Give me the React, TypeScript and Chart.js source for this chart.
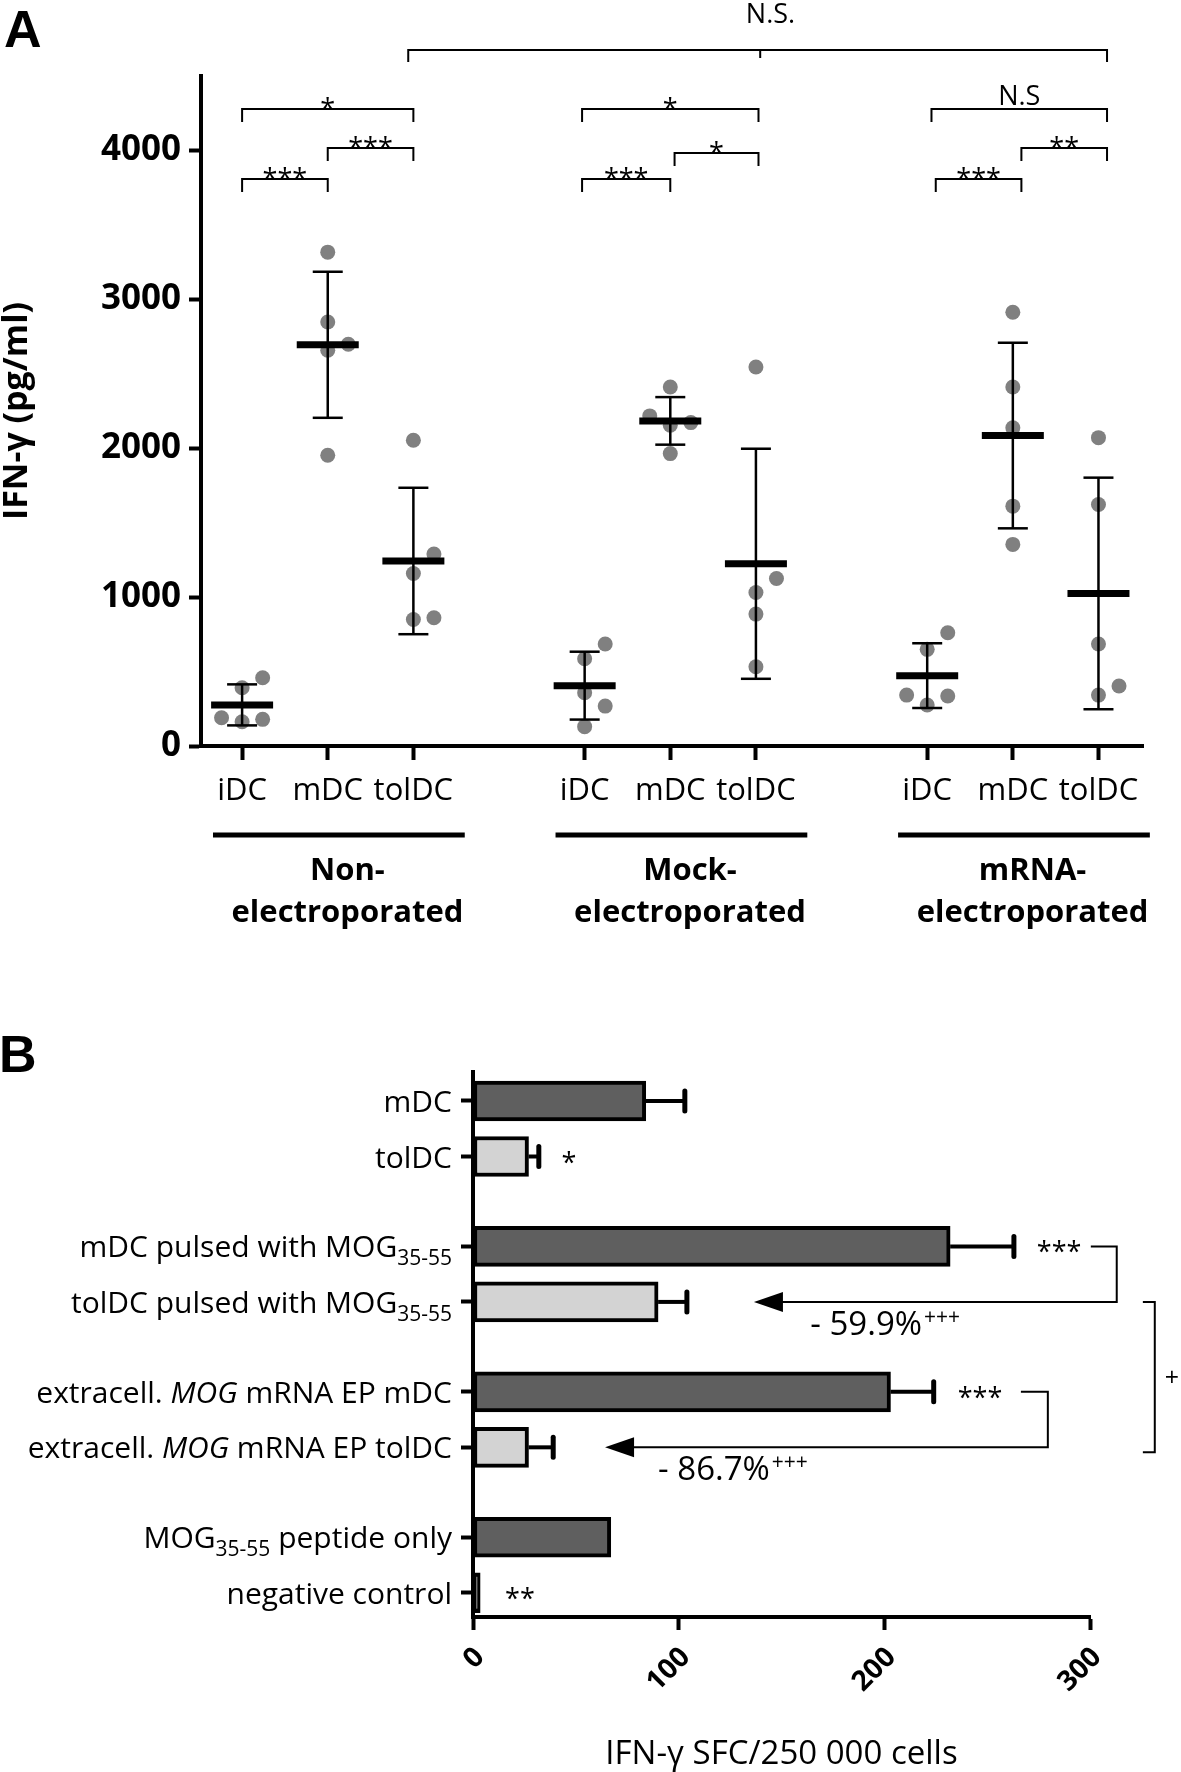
import React, { useEffect, useRef } from 'react';
import { Chart, registerables } from 'chart.js';
Chart.register(...registerables);

const FONT = "'Open Sans', 'DejaVu Sans', sans-serif";
const LETTER_FONT = "bold 52px 'Liberation Sans', Arial, sans-serif";

// ---------------- Panel A data ----------------
const cellTypes = ['iDC', 'mDC', 'tolDC'];
const groupTitles = [['Non-', 'electroporated'], ['Mock-', 'electroporated'], ['mRNA-', 'electroporated']];
const nonEP_iDC = [458, 391, 190, 163, 179];
const nonEP_mDC = [3317, 2848, 2698, 2658, 1953];
const nonEP_tolDC = [2054, 1289, 1159, 850, 861];
const mockEP_iDC = [685, 586, 358, 268, 130];
const mockEP_mDC = [2411, 2172, 2217, 2154, 1964];
const mockEP_tolDC = [2546, 1125, 1031, 886, 532];
const mrnaEP_iDC = [761, 649, 342, 336, 275];
const mrnaEP_mDC = [2913, 2411, 2137, 1611, 1354];
const mrnaEP_tolDC = [2071, 1622, 685, 403, 342];
const seriesA = [
  [nonEP_iDC, nonEP_mDC, nonEP_tolDC],
  [mockEP_iDC, mockEP_mDC, mockEP_tolDC],
  [mrnaEP_iDC, mrnaEP_mDC, mrnaEP_tolDC],
];
const yTicksA = [0, 1000, 2000, 3000, 4000];
const yTitleA = 'IFN-γ (pg/ml)';
// significance brackets: from/to on the category axis, level in pg/ml
const bracketsA = [
  { from: 0, to: 1, level: 3808, label: '***' },
  { from: 1, to: 2, level: 4016, label: '***' },
  { from: 0, to: 2, level: 4278, label: '*' },
  { from: 3.97, to: 5.0, level: 3808, label: '***' },
  { from: 5.05, to: 6.03, level: 3983, label: '*' },
  { from: 3.97, to: 6.03, level: 4278, label: '*' },
  { from: 8.1, to: 9.1, level: 3808, label: '***' },
  { from: 9.1, to: 10.1, level: 4016, label: '**' },
  { from: 8.05, to: 10.1, level: 4278, label: 'N.S' },
];
const overallBracketA = { from: 1.94, mid: 6.05, to: 10.1, level: 4674, label: 'N.S.', labelAt: 6.17 };

// ---------------- Panel B data ----------------
const barLabelsB = [
  [{ t: 'mDC' }],
  [{ t: 'tolDC' }],
  [{ t: 'mDC pulsed with MOG' }, { t: '35-55', sub: true }],
  [{ t: 'tolDC pulsed with MOG' }, { t: '35-55', sub: true }],
  [{ t: 'extracell. ' }, { t: 'MOG', it: true }, { t: ' mRNA EP mDC' }],
  [{ t: 'extracell. ' }, { t: 'MOG', it: true }, { t: ' mRNA EP tolDC' }],
  [{ t: 'MOG' }, { t: '35-55', sub: true }, { t: ' peptide only' }],
  [{ t: 'negative control' }],
];
const barValuesB = [84, 27, 232, 90, 203, 27, 67, 3.5];
const barErrorsB = [19, 5, 31, 14, 21, 12, null, null];
const barKindB = ['mature', 'tolerogenic', 'mature', 'tolerogenic', 'mature', 'tolerogenic', 'mature', 'mature'];
const xTicksB = [0, 100, 200, 300];
const xTitleB = 'IFN-γ SFC/250 000 cells';
const starsB = [
  { bar: 1, x: 46.7, label: '*' },
  { bar: 2, x: 285, label: '***' },
  { bar: 4, x: 246.5, label: '***' },
  { bar: 7, x: 22.8, label: '**' },
];
const arrowsB = [
  { fromBar: 2, toBar: 3, x0: 300.4, x1: 313, tip: 136.6, text: '- 59.9%', sup: '+++', textX: 164 },
  { fromBar: 4, toBar: 5, x0: 266.4, x1: 279.5, tip: 64.2, text: '- 86.7%', sup: '+++', textX: 90 },
];
const plusBracketB = { fromBar: 3, toBar: 5, x0: 325.7, x1: 331.5, label: '+', labelX: 339.8 };

// ---------------- helpers ----------------
const posA = (g: number, t: number) => g * 4 + t;
const posB = (i: number) => i + Math.floor(i / 2) * 0.62;
const mean = (a: number[]) => a.reduce((s, v) => s + v, 0) / a.length;
const sd = (a: number[]) => {
  const m = mean(a);
  return Math.sqrt(a.reduce((s, v) => s + (v - m) * (v - m), 0) / (a.length - 1));
};
function swarmOffsets(values: number[], minGap: number, step: number) {
  const order = values.map((_, i) => i).sort((a, b) => values[a] - values[b]);
  const off = new Array(values.length).fill(0);
  const placed: { v: number; o: number }[] = [];
  for (const i of order) {
    const v = values[i];
    for (const o of [0, step, -step, 2 * step, -2 * step]) {
      if (!placed.some((p) => p.o === o && Math.abs(p.v - v) < minGap)) {
        off[i] = o;
        break;
      }
    }
    placed.push({ v, o: off[i] });
  }
  return off;
}

function line(ctx: CanvasRenderingContext2D, x1: number, y1: number, x2: number, y2: number) {
  ctx.beginPath();
  ctx.moveTo(x1, y1);
  ctx.lineTo(x2, y2);
  ctx.stroke();
}

export default function App() {
  const refA = useRef<HTMLCanvasElement>(null);
  const refB = useRef<HTMLCanvasElement>(null);

  useEffect(() => {
    document.body.style.margin = '0';
    const statsA: { pos: number; m: number; s: number }[] = [];
    const points: { x: number; y: number }[] = [];
    seriesA.forEach((grp, g) =>
      grp.forEach((vals, t) => {
        const p = posA(g, t);
        statsA.push({ pos: p, m: mean(vals), s: sd(vals) });
        const offs = swarmOffsets(vals, 140, 0.24);
        vals.forEach((v, k) => points.push({ x: p + offs[k], y: v }));
      })
    );
    const tickPositionsA: number[] = [];
    seriesA.forEach((grp, g) => grp.forEach((_, t) => tickPositionsA.push(posA(g, t))));

    const pluginA = {
      id: 'panelA',
      afterDatasetsDraw(chart: any) {
        const { ctx, scales } = chart;
        const x = scales.x, y = scales.y;
        ctx.save();
        ctx.strokeStyle = '#000';
        ctx.lineWidth = 2.5;
        statsA.forEach((st) => {
          const px = x.getPixelForValue(st.pos);
          const top = y.getPixelForValue(st.m + st.s);
          const bot = y.getPixelForValue(Math.max(0, st.m - st.s));
          line(ctx, px, top, px, bot);
          line(ctx, px - 15, top, px + 15, top);
          line(ctx, px - 15, bot, px + 15, bot);
        });
        ctx.restore();
      },
      afterDraw(chart: any) {
        const { ctx, scales } = chart;
        const x = scales.x, y = scales.y;
        ctx.save();
        ctx.strokeStyle = '#000';
        ctx.fillStyle = '#000';
        ctx.lineWidth = 2;
        ctx.textAlign = 'center';
        ctx.textBaseline = 'alphabetic';
        bracketsA.forEach((b) => {
          const x1 = x.getPixelForValue(b.from);
          const x2 = x.getPixelForValue(b.to);
          const yy = y.getPixelForValue(b.level);
          ctx.beginPath();
          ctx.moveTo(x1, yy + 13);
          ctx.lineTo(x1, yy);
          ctx.lineTo(x2, yy);
          ctx.lineTo(x2, yy + 13);
          ctx.stroke();
          ctx.font = `27px ${FONT}`;
          const isStar = b.label.indexOf('*') >= 0;
          ctx.fillText(b.label, (x1 + x2) / 2, isStar ? yy + 9 : yy - 4);
        });
        const ob = overallBracketA;
        const ox1 = x.getPixelForValue(ob.from);
        const ox2 = x.getPixelForValue(ob.to);
        const om = x.getPixelForValue(ob.mid);
        const oy = y.getPixelForValue(ob.level);
        ctx.beginPath();
        ctx.moveTo(ox1, oy + 12);
        ctx.lineTo(ox1, oy);
        ctx.lineTo(ox2, oy);
        ctx.lineTo(ox2, oy + 12);
        ctx.moveTo(om, oy);
        ctx.lineTo(om, oy + 8);
        ctx.stroke();
        ctx.font = `27px ${FONT}`;
        ctx.fillText(ob.label, x.getPixelForValue(ob.labelAt), oy - 27);

        // group underlines + titles
        const base = y.getPixelForValue(0);
        groupTitles.forEach((tt, g) => {
          ctx.lineWidth = 5;
          line(ctx, x.getPixelForValue(g * 4 - 0.34), base + 89, x.getPixelForValue(g * 4 + 2.6), base + 89);
          ctx.font = `bold 31px ${FONT}`;
          const cx = x.getPixelForValue(g * 4 + 1.23);
          ctx.fillText(tt[0], cx, base + 134);
          ctx.fillText(tt[1], cx, base + 176);
        });
        ctx.textAlign = 'left';
        ctx.font = LETTER_FONT;
        ctx.fillText('A', 4, 47);
        ctx.restore();
      },
    };

    const chartA = new Chart(refA.current!, {
      type: 'scatter',
      data: {
        datasets: [
          {
            data: statsA.map((s) => ({ x: s.pos, y: s.m })),
            pointStyle: 'line',
            radius: 31,
            hoverRadius: 31,
            borderWidth: 7,
            hoverBorderWidth: 7,
            borderColor: '#000',
            backgroundColor: '#000',
          } as any,
          {
            data: points,
            pointStyle: 'circle',
            radius: 7.5,
            hoverRadius: 7.5,
            borderWidth: 0,
            backgroundColor: '#808080',
          },
        ],
      },
      options: {
        animation: false,
        responsive: false,
        devicePixelRatio: 1,
        events: [],
        layout: { padding: { top: 76, right: 36, left: 0, bottom: 0 } },
        plugins: { legend: { display: false }, tooltip: { enabled: false } },
        scales: {
          x: {
            type: 'linear',
            min: -0.48,
            max: 10.52,
            afterBuildTicks: (s: any) => {
              s.ticks = tickPositionsA.map((v) => ({ value: v }));
            },
            afterFit: (s: any) => {
              s.height = 214;
            },
            ticks: {
              autoSkip: false,
              maxRotation: 0,
              minRotation: 0,
              padding: 13,
              color: '#000',
              font: { family: FONT, size: 31 },
              callback: (v: any) => cellTypes[Math.round(Number(v)) % 4] ?? '',
            },
            grid: { display: true, drawOnChartArea: false, drawTicks: true, tickLength: 14, tickWidth: 4, tickColor: '#000' },
            border: { display: true, width: 4, color: '#000' },
          },
          y: {
            type: 'linear',
            min: 0,
            max: 4500,
            afterBuildTicks: (s: any) => {
              s.ticks = yTicksA.map((v) => ({ value: v }));
            },
            afterFit: (s: any) => {
              s.width = 201;
            },
            ticks: {
              autoSkip: false,
              padding: 8,
              color: '#000',
              font: { family: FONT, size: 35, weight: 'bold' },
              callback: (v: any) => String(v),
            },
            grid: { display: true, drawOnChartArea: false, drawTicks: true, tickLength: 12, tickWidth: 4, tickColor: '#000' },
            border: { display: true, width: 4, color: '#000' },
            title: { display: true, text: yTitleA, color: '#000', padding: 0, font: { family: FONT, size: 34, weight: 'bold', lineHeight: 1.0 } },
          },
        },
      } as any,
      plugins: [pluginA],
    });

    // ---------------- Panel B ----------------
    const colorFor = (k: string) => (k === 'mature' ? '#5f5f5f' : '#d3d3d3');
    const pluginB = {
      id: 'panelB',
      afterDraw(chart: any) {
        const { ctx, scales } = chart;
        const x = scales.x, y = scales.y;
        ctx.save();
        ctx.fillStyle = '#000';
        ctx.strokeStyle = '#000';
        // category labels
        barLabelsB.forEach((segs, i) => {
          const cy = y.getPixelForValue(posB(i));
          const fonts = segs.map((s: any) => (s.sub ? `21px ${FONT}` : s.it ? `italic 30px ${FONT}` : `30px ${FONT}`));
          const widths = segs.map((s: any, k: number) => {
            ctx.font = fonts[k];
            return ctx.measureText(s.t).width;
          });
          let px = 452 - widths.reduce((a: number, b: number) => a + b, 0);
          const baseline = cy + 11;
          ctx.textAlign = 'left';
          ctx.textBaseline = 'alphabetic';
          segs.forEach((s: any, k: number) => {
            ctx.font = fonts[k];
            ctx.fillText(s.t, px, s.sub ? baseline + 8 : baseline);
            px += widths[k];
          });
        });
        // error bars
        barValuesB.forEach((v, i) => {
          const e = barErrorsB[i];
          if (e == null) return;
          const cy = y.getPixelForValue(posB(i));
          const x1 = x.getPixelForValue(v);
          const x2 = x.getPixelForValue(v + e);
          ctx.lineCap = 'butt';
          ctx.lineWidth = 4;
          line(ctx, x1, cy, x2, cy);
          ctx.lineCap = 'round';
          ctx.lineWidth = 5;
          line(ctx, x2, cy - 10, x2, cy + 10);
        });
        ctx.lineCap = 'butt';
        // stars
        ctx.textAlign = 'center';
        ctx.textBaseline = 'alphabetic';
        ctx.font = `27px ${FONT}`;
        starsB.forEach((s) => {
          ctx.fillText(s.label, x.getPixelForValue(s.x), y.getPixelForValue(posB(s.bar)) + 15);
        });
        // arrows
        arrowsB.forEach((a) => {
          const ya = y.getPixelForValue(posB(a.fromBar));
          const yb = y.getPixelForValue(posB(a.toBar));
          const x0 = x.getPixelForValue(a.x0);
          const x1 = x.getPixelForValue(a.x1);
          const tip = x.getPixelForValue(a.tip);
          ctx.lineWidth = 2;
          ctx.beginPath();
          ctx.moveTo(x0, ya);
          ctx.lineTo(x1, ya);
          ctx.lineTo(x1, yb);
          ctx.lineTo(tip + 25, yb);
          ctx.stroke();
          ctx.beginPath();
          ctx.moveTo(tip, yb);
          ctx.lineTo(tip + 29, yb - 10);
          ctx.lineTo(tip + 29, yb + 10);
          ctx.closePath();
          ctx.fill();
          ctx.textAlign = 'left';
          ctx.font = `33px ${FONT}`;
          const tx = x.getPixelForValue(a.textX);
          ctx.fillText(a.text, tx, yb + 33);
          const w = ctx.measureText(a.text).width;
          ctx.font = `21px ${FONT}`;
          ctx.fillText(a.sup, tx + w + 2, yb + 22);
        });
        // plus bracket
        const pb = plusBracketB;
        const pya = y.getPixelForValue(posB(pb.fromBar));
        const pyb = y.getPixelForValue(posB(pb.toBar)) + 5;
        const px0 = x.getPixelForValue(pb.x0);
        const px1 = x.getPixelForValue(pb.x1);
        ctx.lineWidth = 2;
        ctx.beginPath();
        ctx.moveTo(px0, pya);
        ctx.lineTo(px1, pya);
        ctx.lineTo(px1, pyb);
        ctx.lineTo(px0, pyb);
        ctx.stroke();
        ctx.textAlign = 'center';
        ctx.font = `25px ${FONT}`;
        ctx.fillText(pb.label, x.getPixelForValue(pb.labelX), (pya + pyb) / 2 + 9);
        // panel letter
        ctx.textAlign = 'left';
        ctx.font = LETTER_FONT;
        ctx.fillText('B', -1, 112);
        ctx.restore();
      },
    };

    const chartB = new Chart(refB.current!, {
      type: 'bar',
      data: {
        datasets: [
          {
            data: barValuesB.map((v, i) => ({ x: v, y: posB(i) })),
            backgroundColor: barKindB.map(colorFor),
            borderColor: '#000',
            borderWidth: 4,
            borderSkipped: false,
            barThickness: 40,
          } as any,
        ],
      },
      options: {
        indexAxis: 'y',
        animation: false,
        responsive: false,
        devicePixelRatio: 1,
        events: [],
        layout: { padding: { top: 112, right: 91, left: 0, bottom: 0 } },
        plugins: { legend: { display: false }, tooltip: { enabled: false } },
        scales: {
          y: {
            type: 'linear',
            reverse: true,
            offset: false,
            min: -0.5225,
            max: 9.297,
            afterBuildTicks: (s: any) => {
              s.ticks = barLabelsB.map((_, i) => ({ value: posB(i) }));
            },
            afterFit: (s: any) => {
              s.width = 473;
            },
            ticks: { autoSkip: false, callback: () => '', font: { size: 10 } },
            grid: { display: true, offset: false, drawOnChartArea: false, drawTicks: true, tickLength: 12, tickWidth: 4, tickColor: '#000' },
            border: { display: true, width: 4, color: '#000' },
          },
          x: {
            type: 'linear',
            min: 0,
            max: 300,
            afterBuildTicks: (s: any) => {
              s.ticks = xTicksB.map((v) => ({ value: v }));
            },
            afterFit: (s: any) => {
              s.height = 155;
            },
            ticks: {
              autoSkip: false,
              minRotation: 45,
              maxRotation: 45,
              padding: 11,
              labelOffset: 7,
              color: '#000',
              font: { family: FONT, size: 28, weight: 'bold' },
            },
            grid: { display: true, drawOnChartArea: false, drawTicks: true, tickLength: 13, tickWidth: 4, tickColor: '#000' },
            border: { display: true, width: 4, color: '#000' },
            title: { display: true, text: xTitleB, color: '#000', padding: { top: 0, bottom: 1 }, font: { family: FONT, size: 33, lineHeight: 1.0 } },
          },
        },
      } as any,
      plugins: [pluginB],
    });

    return () => {
      chartA.destroy();
      chartB.destroy();
    };
  }, []);

  return (
    <div style={{ position: 'relative', width: 1181, height: 1772, background: '#fff' }}>
      <canvas ref={refA} width={1181} height={960} style={{ position: 'absolute', left: 0, top: 0, width: 1181, height: 960 }} />
      <canvas ref={refB} width={1181} height={812} style={{ position: 'absolute', left: 0, top: 960, width: 1181, height: 812 }} />
    </div>
  );
}
